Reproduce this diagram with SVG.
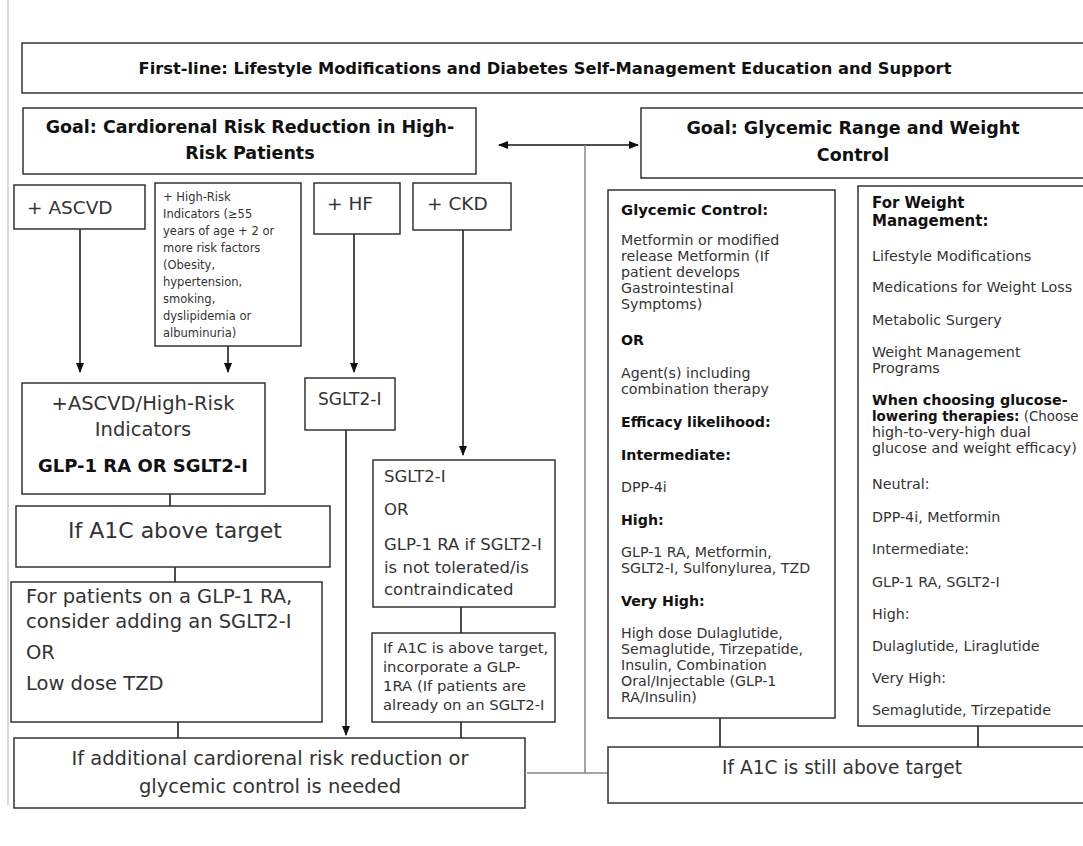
<svg xmlns="http://www.w3.org/2000/svg" width="1083" height="846" viewBox="0 0 1083 846">
<style>
.b{fill:#fff;stroke:#333;stroke-width:1.5}
.t{font-family:"DejaVu Sans","Open Sans",sans-serif;fill:#333}
.bd{font-weight:bold;fill:#111}
.c{stroke:#111;stroke-width:1.5;fill:none}
.g{stroke:#888;stroke-width:1.5;fill:none}
.m{text-anchor:middle}
</style>
<defs>
<marker id="ah" markerWidth="10" markerHeight="10" refX="9" refY="5" orient="auto" markerUnits="userSpaceOnUse">
<path d="M0,1 L10,5 L0,9 Z" fill="#111"/>
</marker>
<marker id="as" markerWidth="10" markerHeight="10" refX="1" refY="5" orient="auto" markerUnits="userSpaceOnUse">
<path d="M10,1 L0,5 L10,9 Z" fill="#111"/>
</marker>
</defs>
<rect width="1083" height="846" fill="#fff"/>
<line x1="8" y1="0" x2="8" y2="805" stroke="#ccc" stroke-width="1.5"/>

<g id="connectors">
<line class="c" x1="499" y1="145" x2="638" y2="145" marker-start="url(#as)" marker-end="url(#ah)"/>
<polyline class="g" points="585,145 585,773 527,773"/>
<line class="g" x1="585" y1="773" x2="608" y2="773"/>
<line class="c" x1="80" y1="229" x2="80" y2="372" marker-end="url(#ah)"/>
<line class="c" x1="228" y1="346" x2="228" y2="372" marker-end="url(#ah)"/>
<line class="c" x1="354" y1="234" x2="354" y2="372" marker-end="url(#ah)"/>
<line class="c" x1="463" y1="230" x2="463" y2="455" marker-end="url(#ah)"/>
<line class="c" x1="346" y1="430" x2="346" y2="735" marker-end="url(#ah)"/>
<line class="c" x1="170" y1="494" x2="170" y2="506"/>
<line class="c" x1="175" y1="567" x2="175" y2="582"/>
<line class="c" x1="178" y1="722" x2="178" y2="738"/>
<line class="c" x1="461" y1="607" x2="461" y2="633"/>
<line class="c" x1="461" y1="722" x2="461" y2="738"/>
<line class="c" x1="720" y1="718" x2="720" y2="747"/>
<line class="c" x1="978" y1="726" x2="978" y2="747"/>
</g>

<g id="first-line">
<rect class="b" x="22" y="43" width="1075" height="50"/>
<text class="t bd m" x="545" y="74" font-size="16.3">First-line: Lifestyle Modifications and Diabetes Self-Management Education and Support</text>
</g>

<g id="goal-cardiorenal">
<rect class="b" x="23" y="108" width="453" height="66"/>
<text class="t bd m" x="250" y="133" font-size="17.5">Goal: Cardiorenal Risk Reduction in High-</text>
<text class="t bd m" x="250" y="159" font-size="17.5">Risk Patients</text>
</g>

<g id="goal-glycemic">
<rect class="b" x="641" y="108" width="460" height="70"/>
<text class="t bd m" x="853" y="134" font-size="17.5">Goal: Glycemic Range and Weight</text>
<text class="t bd m" x="853" y="161" font-size="17.5">Control</text>
</g>

<g id="ascvd">
<rect class="b" x="14" y="185" width="131" height="44"/>
<text class="t" x="27" y="214" font-size="18.5">+ ASCVD</text>
</g>

<g id="high-risk">
<rect class="b" x="155" y="183" width="146" height="163"/>
<g class="t" font-size="11.5" fill="#555">
<text x="163" y="201">+ High-Risk</text>
<text x="163" y="218">Indicators (≥55</text>
<text x="163" y="235">years of age + 2 or</text>
<text x="163" y="252">more risk factors</text>
<text x="163" y="269">(Obesity,</text>
<text x="163" y="286">hypertension,</text>
<text x="163" y="303">smoking,</text>
<text x="163" y="320">dyslipidemia or</text>
<text x="163" y="337">albuminuria)</text>
</g>
</g>

<g id="hf">
<rect class="b" x="314" y="183" width="86" height="51"/>
<text class="t" x="327" y="210" font-size="18.5">+ HF</text>
</g>

<g id="ckd">
<rect class="b" x="413" y="183" width="98" height="47"/>
<text class="t" x="427" y="210" font-size="18.5">+ CKD</text>
</g>

<g id="ascvd-hr-therapy">
<rect class="b" x="22" y="383" width="243" height="111"/>
<text class="t m" x="143" y="410" font-size="19.5">+ASCVD/High-Risk</text>
<text class="t m" x="143" y="436" font-size="19.5">Indicators</text>
<text class="t bd m" x="143" y="472" font-size="18">GLP-1 RA OR SGLT2-I</text>
</g>

<g id="hf-sglt2">
<rect class="b" x="305" y="378" width="90" height="52"/>
<text class="t" x="318" y="405" font-size="17">SGLT2-I</text>
</g>

<g id="ckd-therapy">
<rect class="b" x="373" y="460" width="182" height="147"/>
<g class="t" font-size="16.5">
<text x="384" y="482">SGLT2-I</text>
<text x="384" y="515">OR</text>
<text x="384" y="550">GLP-1 RA if SGLT2-I</text>
<text x="384" y="573">is not tolerated/is</text>
<text x="384" y="595">contraindicated</text>
</g>
</g>

<g id="a1c-left">
<rect class="b" x="16" y="506" width="314" height="61"/>
<text class="t m" x="175" y="538" font-size="22">If A1C above target</text>
</g>

<g id="ckd-a1c">
<rect class="b" x="372" y="633" width="183" height="89"/>
<g class="t" font-size="14.8">
<text x="383" y="653">If A1C is above target,</text>
<text x="383" y="672">incorporate a GLP-</text>
<text x="383" y="691">1RA (If patients are</text>
<text x="383" y="710">already on an SGLT2-I</text>
</g>
</g>

<g id="glp1-patients">
<rect class="b" x="11" y="582" width="311" height="140"/>
<g class="t" font-size="19.5">
<text x="26" y="603">For patients on a GLP-1 RA,</text>
<text x="26" y="628">consider adding an SGLT2-I</text>
<text x="26" y="659">OR</text>
<text x="26" y="690">Low dose TZD</text>
</g>
</g>

<g id="additional">
<rect class="b" x="14" y="738" width="511" height="70"/>
<text class="t m" x="270" y="765" font-size="19.5">If additional cardiorenal risk reduction or</text>
<text class="t m" x="270" y="793" font-size="19.5">glycemic control is needed</text>
</g>

<g id="glycemic-control">
<rect class="b" x="608" y="190" width="227" height="528"/>
<g class="t" font-size="14.2">
<text class="bd" x="621" y="215" font-size="14.8">Glycemic Control:</text>
<text x="621" y="245">Metformin or modified</text>
<text x="621" y="261">release Metformin (If</text>
<text x="621" y="277">patient develops</text>
<text x="621" y="293">Gastrointestinal</text>
<text x="621" y="309">Symptoms)</text>
<text class="bd" x="621" y="345">OR</text>
<text x="621" y="378">Agent(s) including</text>
<text x="621" y="394">combination therapy</text>
<text class="bd" x="621" y="427">Efficacy likelihood:</text>
<text class="bd" x="621" y="460">Intermediate:</text>
<text x="621" y="492">DPP-4i</text>
<text class="bd" x="621" y="525">High:</text>
<text x="621" y="557">GLP-1 RA, Metformin,</text>
<text x="621" y="573">SGLT2-I, Sulfonylurea, TZD</text>
<text class="bd" x="621" y="606">Very High:</text>
<text x="621" y="638">High dose Dulaglutide,</text>
<text x="621" y="654">Semaglutide, Tirzepatide,</text>
<text x="621" y="670">Insulin, Combination</text>
<text x="621" y="686">Oral/Injectable (GLP-1</text>
<text x="621" y="702">RA/Insulin)</text>
</g>
</g>

<g id="weight-management">
<rect class="b" x="858" y="186" width="240" height="540"/>
<g class="t" font-size="14.3">
<text class="bd" x="872" y="208" font-size="15">For Weight</text>
<text class="bd" x="872" y="226" font-size="15">Management:</text>
<text x="872" y="261">Lifestyle Modifications</text>
<text x="872" y="292">Medications for Weight Loss</text>
<text x="872" y="325">Metabolic Surgery</text>
<text x="872" y="357">Weight Management</text>
<text x="872" y="373">Programs</text>
<text class="bd" x="872" y="405">When choosing glucose-</text>
<text x="872" y="421" font-size="13.4"><tspan class="bd">lowering therapies:</tspan> (Choose</text>
<text x="872" y="437">high-to-very-high dual</text>
<text x="872" y="453">glucose and weight efficacy)</text>
<text x="872" y="489">Neutral:</text>
<text x="872" y="522">DPP-4i, Metformin</text>
<text x="872" y="554">Intermediate:</text>
<text x="872" y="587">GLP-1 RA, SGLT2-I</text>
<text x="872" y="619">High:</text>
<text x="872" y="651">Dulaglutide, Liraglutide</text>
<text x="872" y="683">Very High:</text>
<text x="872" y="715">Semaglutide, Tirzepatide</text>
</g>
</g>

<g id="a1c-still">
<rect class="b" x="608" y="747" width="490" height="56"/>
<text class="t m" x="842" y="774" font-size="18.6">If A1C is still above target</text>
</g>
</svg>
